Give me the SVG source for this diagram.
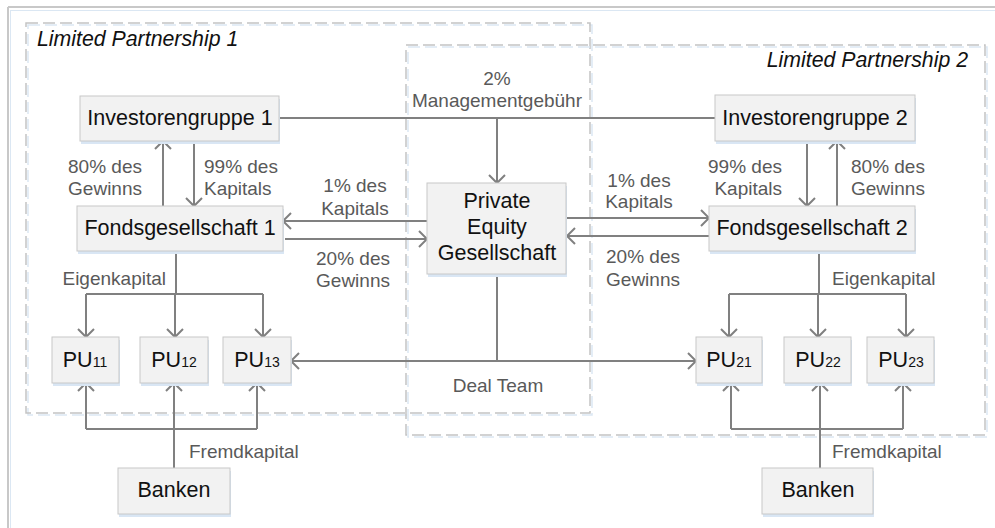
<svg xmlns="http://www.w3.org/2000/svg" width="995" height="528" viewBox="0 0 995 528">
<defs>
<marker id="ah" viewBox="-10 -10 20 20" refX="0" refY="0" markerWidth="20" markerHeight="20" markerUnits="userSpaceOnUse" orient="auto">
<path d="M-8,-8 L0,0 L-8,8" fill="none" stroke="#808080" stroke-width="2"/>
</marker>
<style>
.box{fill:#f2f2f2;stroke:#c8c8c8;stroke-width:1}
.sh{fill:#d9e6f4}
.nt{font-family:"Liberation Sans",Arial,sans-serif;font-size:21.5px;fill:#111;text-anchor:middle}
.lb{font-family:"Liberation Sans",Arial,sans-serif;font-size:19px;fill:#595959}
.c{text-anchor:middle}
.e{text-anchor:end}
.ln{fill:none;stroke:#808080;stroke-width:2}
.ar{marker-end:url(#ah)}
.dg{fill:none;stroke:#c4c4c4;stroke-width:1.5;stroke-dasharray:12 5}
.db{fill:none;stroke:#dbe7f3;stroke-width:1.5;stroke-dasharray:12 5}
.ti{font-family:"Liberation Sans",Arial,sans-serif;font-size:21.3px;font-style:italic;fill:#111}
.sub{font-size:14px}
</style>
</defs>
<rect width="995" height="528" fill="#fff"/>
<g id="frame">
<line x1="8" y1="7" x2="995" y2="7" stroke="#c8c8c8" stroke-width="2"/>
<line x1="8" y1="7" x2="8" y2="528" stroke="#c8c8c8" stroke-width="2"/>
<line x1="11" y1="10.5" x2="995" y2="10.5" stroke="#dbe7f3" stroke-width="1"/>
<line x1="10.5" y1="10" x2="10.5" y2="528" stroke="#dbe7f3" stroke-width="1"/>
</g>
<g id="lp1">
<rect class="db" x="28" y="25" width="564" height="390"/>
<rect class="dg" x="26" y="23" width="564" height="390"/>
<text class="ti" x="37" y="46">Limited Partnership 1</text>
</g>
<g id="lp2">
<rect class="db" x="408" y="47" width="579" height="390"/>
<rect class="dg" x="406" y="45" width="579" height="390"/>
<text class="ti" x="968" y="67" text-anchor="end">Limited Partnership 2</text>
</g>
<g id="connectors">
<line class="ln" x1="279" y1="118" x2="715" y2="118"/>
<line class="ln ar" x1="497" y1="118" x2="497" y2="183"/>
<line class="ln ar" x1="163" y1="206" x2="163" y2="141"/>
<line class="ln ar" x1="194" y1="141" x2="194" y2="206"/>
<line class="ln ar" x1="807" y1="141" x2="807" y2="206"/>
<line class="ln ar" x1="837" y1="206" x2="837" y2="141"/>
<line class="ln ar" x1="427" y1="221" x2="283" y2="221"/>
<line class="ln ar" x1="285" y1="239" x2="427" y2="239"/>
<line class="ln ar" x1="567" y1="218" x2="709" y2="218"/>
<line class="ln ar" x1="709" y1="236" x2="567" y2="236"/>
<line class="ln" x1="176" y1="251" x2="176" y2="294"/>
<polyline class="ln" points="86,294 263,294"/>
<line class="ln ar" x1="86" y1="294" x2="86" y2="337"/>
<line class="ln ar" x1="175" y1="294" x2="175" y2="337"/>
<line class="ln ar" x1="263" y1="294" x2="263" y2="337"/>
<line class="ln" x1="819" y1="251" x2="819" y2="294"/>
<polyline class="ln" points="729,294 906,294"/>
<line class="ln ar" x1="729" y1="294" x2="729" y2="337"/>
<line class="ln ar" x1="818" y1="294" x2="818" y2="337"/>
<line class="ln ar" x1="906" y1="294" x2="906" y2="337"/>
<line class="ln" x1="497" y1="274" x2="497" y2="361"/>
<line class="ln ar" x1="497" y1="361" x2="291" y2="361"/>
<line class="ln ar" x1="497" y1="361" x2="696" y2="361"/>
<line class="ln ar" x1="174" y1="468" x2="174" y2="383"/>
<polyline class="ln" points="86,429 257,429"/>
<line class="ln ar" x1="86" y1="429" x2="86" y2="383"/>
<line class="ln ar" x1="257" y1="429" x2="257" y2="383"/>
<line class="ln ar" x1="820" y1="468" x2="820" y2="383"/>
<polyline class="ln" points="731,429 903,429"/>
<line class="ln ar" x1="731" y1="429" x2="731" y2="383"/>
<line class="ln ar" x1="903" y1="429" x2="903" y2="383"/>
</g>
<g id="labels">
<text class="lb c" x="497" y="85">2%</text>
<text class="lb c" x="497" y="107">Managementgebühr</text>
<text class="lb e" x="142" y="173">80% des</text>
<text class="lb e" x="142" y="195">Gewinns</text>
<text class="lb" x="204" y="173">99% des</text>
<text class="lb" x="204" y="195">Kapitals</text>
<text class="lb e" x="782" y="173">99% des</text>
<text class="lb e" x="782" y="195">Kapitals</text>
<text class="lb" x="851" y="173">80% des</text>
<text class="lb" x="851" y="195">Gewinns</text>
<text class="lb c" x="355" y="192">1% des</text>
<text class="lb c" x="355" y="215">Kapitals</text>
<text class="lb c" x="353" y="265">20% des</text>
<text class="lb c" x="353" y="287">Gewinns</text>
<text class="lb c" x="639" y="187">1% des</text>
<text class="lb c" x="639" y="208">Kapitals</text>
<text class="lb c" x="643" y="263">20% des</text>
<text class="lb c" x="643" y="286">Gewinns</text>
<text class="lb e" x="166" y="285">Eigenkapital</text>
<text class="lb" x="832" y="285">Eigenkapital</text>
<text class="lb c" x="498" y="392">Deal Team</text>
<text class="lb" x="189" y="458">Fremdkapital</text>
<text class="lb" x="832" y="458">Fremdkapital</text>
</g>
<g id="investorengruppe1"><rect class="sh" x="81" y="99" width="199" height="45"/><rect class="box" x="80" y="96" width="199" height="45"/><text class="nt" x="180" y="125">Investorengruppe 1</text></g>
<g id="investorengruppe2"><rect class="sh" x="716" y="98" width="200" height="46"/><rect class="box" x="715" y="95" width="200" height="46"/><text class="nt" x="815" y="125">Investorengruppe 2</text></g>
<g id="pe"><rect class="sh" x="428" y="186" width="139" height="91"/><rect class="box" x="427" y="183" width="139" height="91"/><text class="nt" x="497" y="208">Private</text><text class="nt" x="497" y="234">Equity</text><text class="nt" x="497" y="260">Gesellschaft</text></g>
<g id="fonds1"><rect class="sh" x="78" y="209" width="206" height="45"/><rect class="box" x="77" y="206" width="206" height="45"/><text class="nt" x="180" y="235">Fondsgesellschaft 1</text></g>
<g id="fonds2"><rect class="sh" x="710" y="209" width="206" height="45"/><rect class="box" x="709" y="206" width="206" height="45"/><text class="nt" x="812" y="235">Fondsgesellschaft 2</text></g>
<g id="pu11"><rect class="sh" x="53" y="340" width="67" height="46"/><rect class="box" x="52" y="337" width="67" height="46"/><text class="nt" x="85" y="367">PU<tspan class="sub">11</tspan></text></g>
<g id="pu12"><rect class="sh" x="141" y="340" width="68" height="46"/><rect class="box" x="140" y="337" width="68" height="46"/><text class="nt" x="174" y="367">PU<tspan class="sub">12</tspan></text></g>
<g id="pu13"><rect class="sh" x="224" y="340" width="68" height="46"/><rect class="box" x="223" y="337" width="68" height="46"/><text class="nt" x="257" y="367">PU<tspan class="sub">13</tspan></text></g>
<g id="pu21"><rect class="sh" x="697" y="340" width="66" height="46"/><rect class="box" x="696" y="337" width="66" height="46"/><text class="nt" x="729" y="367">PU<tspan class="sub">21</tspan></text></g>
<g id="pu22"><rect class="sh" x="785" y="340" width="67" height="46"/><rect class="box" x="784" y="337" width="67" height="46"/><text class="nt" x="818" y="367">PU<tspan class="sub">22</tspan></text></g>
<g id="pu23"><rect class="sh" x="868" y="340" width="67" height="46"/><rect class="box" x="867" y="337" width="67" height="46"/><text class="nt" x="901" y="367">PU<tspan class="sub">23</tspan></text></g>
<g id="banken1"><rect class="sh" x="119" y="471" width="112" height="46"/><rect class="box" x="118" y="468" width="112" height="46"/><text class="nt" x="174" y="497">Banken</text></g>
<g id="banken2"><rect class="sh" x="763" y="471" width="111" height="46"/><rect class="box" x="762" y="468" width="111" height="46"/><text class="nt" x="818" y="497">Banken</text></g>
</svg>
